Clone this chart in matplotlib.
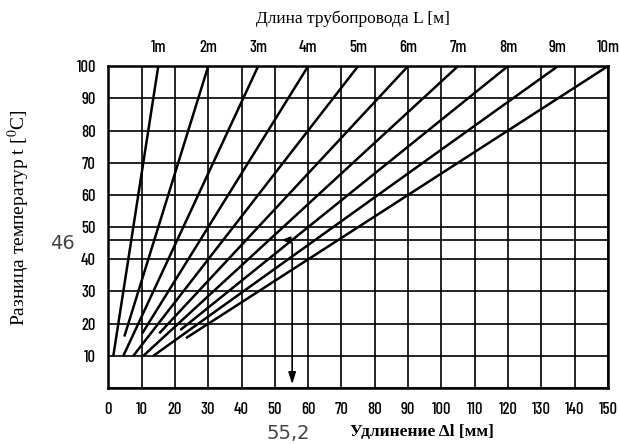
import matplotlib
matplotlib.use("Agg")
import matplotlib.pyplot as plt
import numpy as np

# pipe lengths and line end points
lengths = ["1m", "2m", "3m", "4m", "5m", "6m", "7m", "8m", "9m", "10m"]
top_dl = [15, 30, 45, 60, 75, 90, 105, 120, 135, 150]
top_t = [100, 100, 100, 100, 100, 100, 100, 100, 100, 100]
start_dl = [1.5, 4.8, 4.5, 10.2, 7.5, 15.3, 10.5, 21.6, 13.5, 23.3]
start_t = [10, 16, 10, 17, 10, 17, 10, 18, 10, 15.5]

x_ticks = list(range(0, 151, 10))
y_ticks = list(range(10, 101, 10))

# example reading: t = 46 -> dl = 55.2 on the 8m line
ex_t = 46
ex_dl = 55.2

tick_font = ["Barlow Condensed", "Liberation Sans"]
serif = ["Liberation Serif", "DejaVu Serif"]
plt.rcParams["mathtext.fontset"] = "stix"

fig = plt.figure(figsize=(6.19, 4.44), dpi=100)
fig.patch.set_facecolor("white")
ax = fig.add_axes([0.175, 0.126, 0.807, 0.725])

ax.set_xlim(0, 150)
ax.set_ylim(0, 100)

# grid
for xv in x_ticks:
    ax.axvline(xv, color="black", linewidth=1.2, zorder=1)
for yv in [0] + y_ticks + [ex_t]:
    ax.axhline(yv, color="black", linewidth=1.2, zorder=1)

for x0, t0, x1, t1 in zip(start_dl, start_t, top_dl, top_t):
    ax.plot([x0, x1], [t0, t1], color="black", linewidth=1.8,
            solid_capstyle="butt", zorder=3)

# example arrows
ax.annotate("", xy=(ex_dl - 4, ex_t), xytext=(ex_dl, ex_t),
            arrowprops=dict(arrowstyle="-|>,head_length=0.5,head_width=0.2",
                            color="black", lw=1.2), zorder=4)
ax.annotate("", xy=(ex_dl, 0.3), xytext=(ex_dl, ex_t),
            arrowprops=dict(arrowstyle="-|>,head_length=0.7,head_width=0.22",
                            color="black", lw=1.2), zorder=4)

for s in ax.spines.values():
    s.set_linewidth(1.8)
    s.set_zorder(5)

ax.set_xticks(x_ticks)
ax.set_xticklabels([str(v) for v in x_ticks], family=tick_font,
                   fontsize=12, fontweight="medium")
ax.set_yticks(y_ticks)
ax.set_yticklabels([str(v) for v in y_ticks], family=tick_font,
                   fontsize=12, fontweight="medium")
ax.tick_params(axis="x", length=0, pad=10)
ax.tick_params(axis="y", length=0, pad=9)

# pipe length labels on top
for lbl, xv in zip(lengths, top_dl):
    ax.text(xv, 103.5, lbl, ha="center", va="bottom", family=tick_font,
            fontsize=12, fontweight="medium")

fig.text(0.57, 0.958, "Длина трубопровода L [м]", ha="center", va="center",
         family=serif, fontsize=12.5)
fig.text(0.682, 0.027, "Удлинение Δl [мм]", ha="center", va="center",
         family=serif, fontsize=12.5, fontweight="bold")
fig.text(0.030, 0.51, "Разница температур t [$^0$C]", ha="center",
         va="center", rotation=90, family=serif, fontsize=14)
ax.text(ex_dl - 1.3, -14.0, "55,2", ha="center", va="center",
        family=["DejaVu Sans"], fontsize=14, color="#444444")
ax.text(-13.8, ex_t - 1, "46", ha="center", va="center",
        family=["DejaVu Sans"], fontsize=14, color="#444444")

fig.savefig("out.png", dpi=100, facecolor="white")
